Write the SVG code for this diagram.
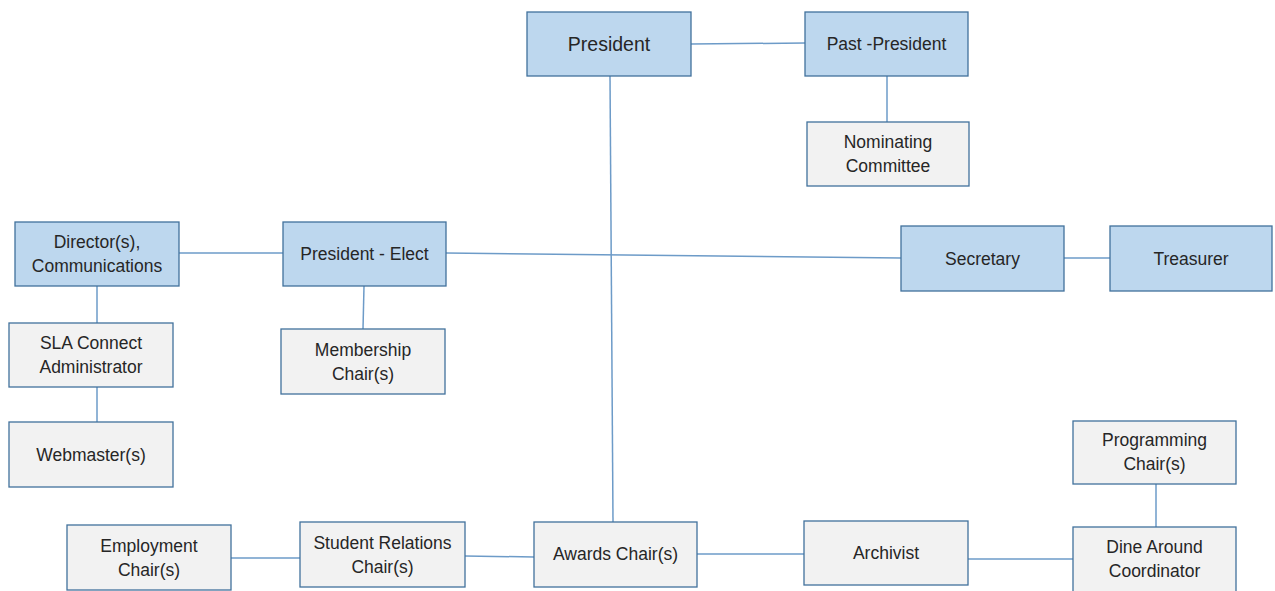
<svg xmlns="http://www.w3.org/2000/svg" width="1275" height="591" viewBox="0 0 1275 591">
<style>
.b{fill:#bdd7ee;stroke:#41719c;stroke-width:1.3}
.g{fill:#f2f2f2;stroke:#41719c;stroke-width:1.3}
.t{font-family:"Liberation Sans",Arial,sans-serif;font-size:17.5px;fill:#262626;text-anchor:middle}
.c line{stroke:#6d9bc8;stroke-width:1.5}
</style>
<rect width="1275" height="591" fill="#ffffff"/>
<g id="connectors" class="c">
<line x1="691" y1="44" x2="805" y2="43"/>
<line x1="887" y1="76" x2="887" y2="122"/>
<line x1="610" y1="76" x2="613" y2="522"/>
<line x1="179" y1="253" x2="283" y2="253"/>
<line x1="446" y1="253" x2="901" y2="258"/>
<line x1="1064" y1="258" x2="1110" y2="258"/>
<line x1="97" y1="286" x2="97" y2="323"/>
<line x1="97" y1="387" x2="97" y2="422"/>
<line x1="364" y1="286" x2="363" y2="329"/>
<line x1="231" y1="558" x2="300" y2="558"/>
<line x1="465" y1="556" x2="534" y2="557"/>
<line x1="697" y1="554" x2="804" y2="554"/>
<line x1="968" y1="559" x2="1073" y2="559"/>
<line x1="1156" y1="484" x2="1156" y2="527"/>
</g>
<g id="president"><rect class="b" x="527" y="12" width="164" height="64"/><text class="t" x="609" y="51" style="font-size:19.5px">President</text></g>
<g id="past-president"><rect class="b" x="805" y="12" width="163" height="64"/><text class="t" x="886.5" y="50">Past -President</text></g>
<g id="nominating"><rect class="g" x="807" y="122" width="162" height="64"/><text class="t" x="888" y="148">Nominating</text><text class="t" x="888" y="172">Committee</text></g>
<g id="director"><rect class="b" x="15" y="222" width="164" height="64"/><text class="t" x="97" y="248">Director(s),</text><text class="t" x="97" y="272">Communications</text></g>
<g id="president-elect"><rect class="b" x="283" y="222" width="163" height="64"/><text class="t" x="364.5" y="260">President - Elect</text></g>
<g id="sla-connect"><rect class="g" x="9" y="323" width="164" height="64"/><text class="t" x="91" y="349">SLA Connect</text><text class="t" x="91" y="373">Administrator</text></g>
<g id="webmaster"><rect class="g" x="9" y="422" width="164" height="65"/><text class="t" x="91" y="461">Webmaster(s)</text></g>
<g id="membership"><rect class="g" x="281" y="329" width="164" height="65"/><text class="t" x="363" y="356">Membership</text><text class="t" x="363" y="380">Chair(s)</text></g>
<g id="secretary"><rect class="b" x="901" y="226" width="163" height="65"/><text class="t" x="982.5" y="265">Secretary</text></g>
<g id="treasurer"><rect class="b" x="1110" y="226" width="162" height="65"/><text class="t" x="1191" y="265">Treasurer</text></g>
<g id="programming"><rect class="g" x="1073" y="421" width="163" height="63"/><text class="t" x="1154.5" y="446">Programming</text><text class="t" x="1154.5" y="470">Chair(s)</text></g>
<g id="employment"><rect class="g" x="67" y="525" width="164" height="65"/><text class="t" x="149" y="552">Employment</text><text class="t" x="149" y="576">Chair(s)</text></g>
<g id="student-relations"><rect class="g" x="300" y="522" width="165" height="65"/><text class="t" x="382.5" y="549">Student Relations</text><text class="t" x="382.5" y="573">Chair(s)</text></g>
<g id="awards"><rect class="g" x="534" y="522" width="163" height="65"/><text class="t" x="615.5" y="560">Awards Chair(s)</text></g>
<g id="archivist"><rect class="g" x="804" y="521" width="164" height="64"/><text class="t" x="886" y="559">Archivist</text></g>
<g id="dine-around"><rect class="g" x="1073" y="527" width="163" height="70"/><text class="t" x="1154.5" y="553">Dine Around</text><text class="t" x="1154.5" y="577">Coordinator</text></g>
</svg>
